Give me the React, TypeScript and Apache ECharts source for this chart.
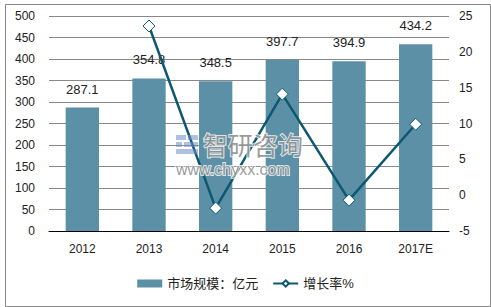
import React, { useEffect, useRef } from "react";
import * as echarts from "echarts";

const categories = ["2012", "2013", "2014", "2015", "2016", "2017E"];
const marketSize = [287.1, 354.8, 348.5, 397.7, 394.9, 434.2];
const growthRate = [null, 23.6, -1.8, 14.1, -0.7, 9.9];
const barName = "市场规模：亿元";
const lineName = "增长率%";

export default function App() {
  const ref = useRef<HTMLDivElement>(null);
  useEffect(() => {
    if (!ref.current) return;
    const chart = echarts.init(ref.current, null, { renderer: "svg" });
    const font = "Arial, 'Liberation Sans', 'Noto Sans CJK SC', sans-serif";
    const logoFill = "rgba(110,140,200,0.55)";
    chart.setOption({
      animation: false,
      textStyle: { fontFamily: font },
      grid: { left: 49, right: 42, top: 16, bottom: 76 },
      legend: {
        bottom: 12,
        left: "center",
        itemGap: 14,
        itemWidth: 25,
        itemHeight: 8,
        textStyle: { fontSize: 13, color: "#222", fontFamily: font },
        data: [
          { name: barName, icon: "rect" },
          { name: lineName },
        ],
      },
      graphic: [
        {
          type: "rect",
          left: 3,
          top: 2,
          shape: { width: 485, height: 302 },
          style: { fill: "none", stroke: "#888", lineWidth: 1 },
          silent: true,
        },
        {
          type: "group",
          left: 175,
          top: 130,
          z: 100,
          silent: true,
          children: [
            { type: "rect", z: 100, x: 0, y: 5, shape: { width: 10, height: 5 }, style: { fill: logoFill } },
            { type: "rect", z: 100, x: 12, y: 5, shape: { width: 10, height: 5 }, style: { fill: logoFill } },
            { type: "rect", z: 100, x: 0, y: 12, shape: { width: 6, height: 5 }, style: { fill: logoFill } },
            { type: "rect", z: 100, x: 8, y: 12, shape: { width: 14, height: 5 }, style: { fill: logoFill } },
            { type: "rect", z: 100, x: 0, y: 19, shape: { width: 22, height: 5 }, style: { fill: logoFill } },
            {
              type: "text",
              z: 100,
              x: 27,
              y: 0,
              style: {
                text: "智研咨询",
                font: "25px 'Noto Sans CJK SC', sans-serif",
                lineHeight: 28,
                fill: "rgba(120,120,120,0.75)",
                stroke: "rgba(255,255,255,0.8)",
                lineWidth: 2,
              },
            },
            {
              type: "text",
              z: 100,
              x: 0,
              y: 31,
              style: {
                text: "www.chyxx.com",
                font: "16px Arial, 'Liberation Sans', sans-serif",
                fill: "rgba(120,120,120,0.75)",
                stroke: "rgba(255,255,255,0.8)",
                lineWidth: 2,
              },
            },
          ],
        },
      ],
      xAxis: {
        type: "category",
        data: categories,
        axisLine: { lineStyle: { color: "#000", width: 1 } },
        axisTick: { show: false },
        axisLabel: { color: "#222", fontSize: 12, margin: 12 },
      },
      yAxis: [
        {
          type: "value",
          min: 0,
          max: 500,
          interval: 50,
          axisLine: { show: false },
          axisTick: { show: false },
          axisLabel: { color: "#222", fontSize: 12, margin: 14 },
          splitLine: { lineStyle: { color: "#888", width: 1 } },
        },
        {
          type: "value",
          min: -5,
          max: 25,
          interval: 5,
          axisLine: { show: false },
          axisTick: { show: false },
          axisLabel: { color: "#222", fontSize: 12, margin: 10 },
          splitLine: { show: false },
        },
      ],
      series: [
        {
          name: barName,
          type: "bar",
          data: marketSize,
          barWidth: "50%",
          itemStyle: { color: "#5b90a7" },
          label: {
            show: true,
            position: "top",
            distance: 12,
            color: "#222",
            fontSize: 13,
          },
        },
        {
          name: lineName,
          type: "line",
          yAxisIndex: 1,
          data: growthRate,
          symbol: "diamond",
          symbolSize: 12,
          lineStyle: { color: "#0d5870", width: 2.5 },
          itemStyle: { color: "#fff", borderColor: "#0d5870", borderWidth: 1 },
          z: 5,
        },
      ],
    });
    return () => chart.dispose();
  }, []);
  return <div ref={ref} style={{ width: 491, height: 307, position: "absolute", left: 0, top: 0 }} />;
}
